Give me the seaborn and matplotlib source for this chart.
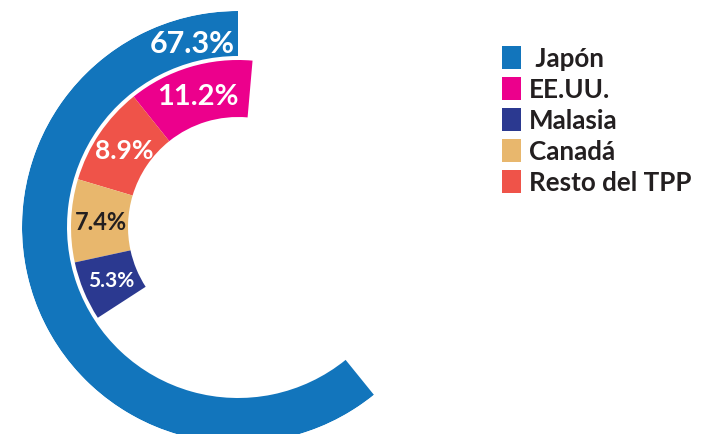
import matplotlib
matplotlib.use("Agg")
import matplotlib.pyplot as plt
import numpy as np
import seaborn as sns
from matplotlib.patches import Patch

# ── data ──
outer_label = "Japón"
outer_value = 67.3
inner_labels = ["EE.UU.", "Resto del TPP", "Canadá", "Malasia"]
inner_values = [11.2, 8.9, 7.4, 5.3]
legend_order = [" Japón", "EE.UU.", "Malasia", "Canadá", "Resto del TPP"]

colors = {
    "Japón": "#1275bc",
    "EE.UU.": "#ec008c",
    "Malasia": "#2b3990",
    "Canadá": "#e8b76d",
    "Resto del TPP": "#ef5349",
}
text_dark = "#231f20"

sns.set_theme(style="white")
plt.rcParams["font.family"] = ["Lato", "DejaVu Sans"]

W, H, DPI = 710, 435, 100
fig = plt.figure(figsize=(W / DPI, H / DPI), dpi=DPI)

# polar axes centred on the ring, radius in pixels
cx, cy, R = 238, 228, 216
ax = fig.add_axes([(cx - R) / W, (H - cy - R) / H, 2 * R / W, 2 * R / H], polar=True)
ax.set_ylim(0, R)
ax.set_axis_off()

# outer ring (Japón)
outer_start, outer_scale = 90, 219 / 67.3   # degrees, degrees per %
ax.bar(np.deg2rad(outer_start), 45, width=np.deg2rad(outer_value * outer_scale),
       bottom=171, align="edge", color=colors[outer_label], linewidth=0)
ax.text(np.deg2rad(outer_start + 14), 190, f"{outer_value}%", ha="center", va="center",
        color="white", fontsize=22, fontweight="bold")

# inner ring
inner_start, inner_scale = 85, 3.9
starts = inner_start + np.concatenate([[0], np.cumsum(inner_values)[:-1]]) * inner_scale
widths = np.array(inner_values) * inner_scale
ax.bar(np.deg2rad(starts), 57, width=np.deg2rad(widths), bottom=110, align="edge",
       color=[colors[l] for l in inner_labels], linewidth=0)

label_sizes = [21, 19, 17, 15]
label_colors = ["white", "white", text_dark, "white"]
for s, w, v, fs, c in zip(starts, widths, inner_values, label_sizes, label_colors):
    ax.text(np.deg2rad(s + w / 2), 137, f"{v}%", ha="center", va="center",
            color=c, fontsize=fs, fontweight="bold")

# legend
handles = [Patch(facecolor=colors[l.strip()], edgecolor="none") for l in legend_order]
leg = fig.legend(handles, legend_order, loc="upper left", bbox_to_anchor=(502 / W, 1 - 47 / H),
                 frameon=False, fontsize=18.7, handlelength=0.74, handleheight=0.97,
                 handletextpad=0.3, labelspacing=0.26, borderaxespad=0, borderpad=0)
for t in leg.get_texts():
    t.set_color(text_dark)
    t.set_fontweight("bold")

fig.savefig("out.png", dpi=DPI)
